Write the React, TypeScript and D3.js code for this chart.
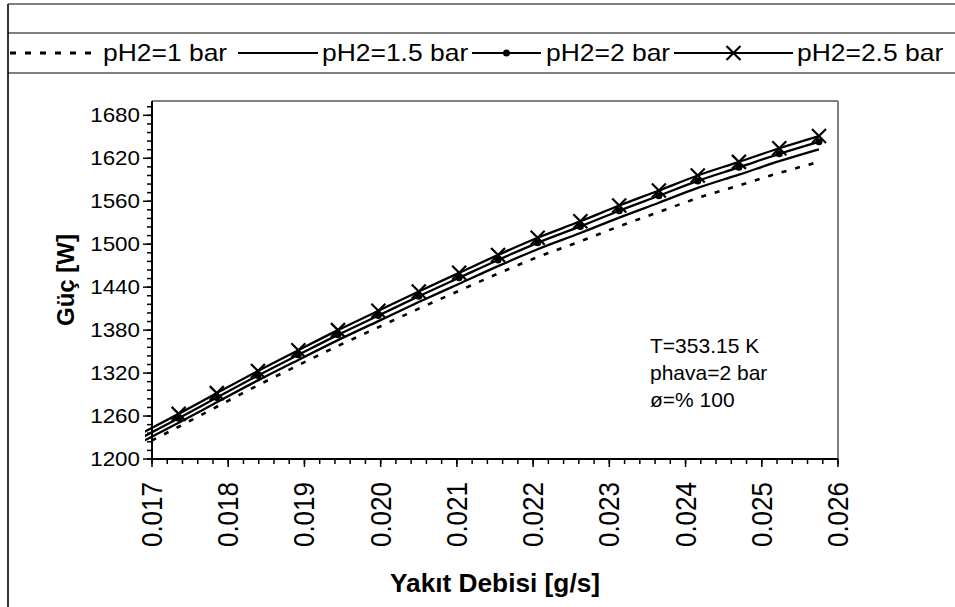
import React from "react";
import * as d3 from "d3";

const W = 955;
const H = 607;

// fuel flow values (g/s) of the computed points
const xValues = [0.01683, 0.01735, 0.01785, 0.01839, 0.01892, 0.01944, 0.01997, 0.0205, 0.02103, 0.02154, 0.02206, 0.02262, 0.02313, 0.02365, 0.02416, 0.0247, 0.02523, 0.02575];

const p1 = [1217, 1245, 1273, 1303, 1331, 1358, 1384, 1410, 1435, 1459, 1482, 1504, 1525, 1545, 1564.5, 1582, 1599.5, 1615];
const p15 = [1222, 1250.6, 1279.2, 1309.8, 1338.4, 1366, 1392.6, 1419.2, 1444.8, 1469.4, 1493, 1515.6, 1537.2, 1557.9, 1578.6, 1597.2, 1615.9, 1632.5];
const p2 = [1228, 1256.9, 1285.8, 1316.6, 1345.5, 1373.4, 1400.3, 1427.2, 1453.1, 1478, 1501.9, 1524.8, 1546.7, 1567.6, 1588.4, 1607.3, 1626.2, 1643];
const p25 = [1234, 1263, 1292, 1323, 1352, 1380, 1407, 1434, 1460, 1485, 1509, 1532, 1554, 1575, 1596, 1615, 1634, 1651];

const seriesNames = ["pH2=1 bar", "pH2=1.5 bar", "pH2=2 bar", "pH2=2.5 bar"];
const seriesValues = [p1, p15, p2, p25];
const seriesMarkers = ["none", "none", "dot", "x"];
const seriesDash = ["5,9", null, null, null];

const yTicks = [1200, 1260, 1320, 1380, 1440, 1500, 1560, 1620, 1680];
const xTicks = [0.017, 0.018, 0.019, 0.02, 0.021, 0.022, 0.023, 0.024, 0.025, 0.026];
const annotation = ["T=353.15 K", "phava=2 bar", "ø=% 100"];
const xTitle = "Yakıt Debisi [g/s]";
const yTitle = "Güç [W]";

const FONT = "'Liberation Sans', Arial, sans-serif";

const plot = { left: 152, top: 101, right: 838, bottom: 459 };

function Marker({ type, x, y }: { type: string; x: number; y: number }) {
  if (type === "dot") return <circle cx={x} cy={y} r={3.5} fill="#000" />;
  if (type === "x") {
    const s = 7;
    return (
      <g stroke="#000" strokeWidth={2.2}>
        <line x1={x - s} y1={y - s} x2={x + s} y2={y + s} />
        <line x1={x - s} y1={y + s} x2={x + s} y2={y - s} />
      </g>
    );
  }
  return null;
}

export default function App() {
  const x = d3.scaleLinear().domain([0.017, 0.026]).range([plot.left, plot.right]);
  const y = d3.scaleLinear().domain([1200, 1700]).range([plot.bottom, plot.top]);
  const line = d3
    .line<number>()
    .x((_, i) => x(xValues[i]))
    .y((d) => y(d))
    .curve(d3.curveMonotoneX);

  const yMinor = d3.range(1200, 1700.1, 12);
  const xMinor = d3.range(0, 46).map((i) => 0.017 + i * 0.0002);

  const legendItems = [
    { x1: 10, x2: 100, tx: 103 },
    { x1: 238, x2: 318, tx: 322 },
    { x1: 472, x2: 541, tx: 546 },
    { x1: 674, x2: 793, tx: 797 },
  ];
  const legY = 53;
  const sx = 1.15;

  return (
    <svg width={W} height={H} style={{ display: "block", position: "absolute", left: 0, top: 0 }} fontFamily={FONT}>
      <rect x={0} y={0} width={W} height={H} fill="#fff" />
      {/* chart frame */}
      <line x1={8} y1={4} x2={W} y2={4} stroke="#555" strokeWidth={1.5} />
      <line x1={8} y1={4} x2={8} y2={H} stroke="#333" strokeWidth={2} />
      <line x1={8} y1={33} x2={W} y2={33} stroke="#000" strokeWidth={1} />
      <line x1={8} y1={73} x2={W} y2={73} stroke="#000" strokeWidth={1} />

      {/* legend */}
      {legendItems.map((it, i) => (
        <g key={i}>
          <line x1={it.x1} y1={legY} x2={it.x2} y2={legY} stroke="#000" strokeWidth={i === 0 ? 3 : 2} strokeDasharray={seriesDash[i] ? "6,9" : undefined} />
          <Marker type={seriesMarkers[i]} x={(it.x1 + it.x2) / 2} y={legY} />
          <text transform={`translate(${it.tx},${legY + 8}) scale(${sx},1)`} fontSize={23}>
            {seriesNames[i]}
          </text>
        </g>
      ))}

      {/* plot frame */}
      <line x1={plot.left} y1={plot.top} x2={plot.right} y2={plot.top} stroke="#808080" strokeWidth={2} />
      <line x1={plot.right} y1={plot.top} x2={plot.right} y2={plot.bottom} stroke="#808080" strokeWidth={2} />

      <defs>
        <clipPath id="dataClip">
          <rect x={145} y={plot.top - 20} width={plot.right - 145 + 20} height={plot.bottom - plot.top + 20} />
        </clipPath>
      </defs>

      {/* series */}
      <g clipPath="url(#dataClip)">
        {seriesValues.map((vals, i) => (
          <path key={i} d={line(vals) || ""} fill="none" stroke="#000" strokeWidth={i === 0 ? 2.6 : 2.3} strokeDasharray={seriesDash[i] || undefined} />
        ))}
      </g>
      {seriesValues.map((vals, i) =>
        vals.map((v, j) =>
          xValues[j] >= 0.017 ? <Marker key={`${i}-${j}`} type={seriesMarkers[i]} x={x(xValues[j])} y={y(v)} /> : null
        )
      )}

      {/* axes */}
      <g stroke="#000" strokeWidth={1.5}>
        {yMinor.map((v, i) => (
          <line key={`ym${i}`} x1={plot.left - 5} x2={plot.left} y1={y(v)} y2={y(v)} />
        ))}
        {yTicks.map((v) => (
          <line key={`yt${v}`} x1={plot.left - 9} x2={plot.left} y1={y(v)} y2={y(v)} />
        ))}
        {xMinor.map((v, i) => (
          <line key={`xm${i}`} x1={x(v)} x2={x(v)} y1={plot.bottom} y2={plot.bottom + 5} />
        ))}
        {xTicks.map((v) => (
          <line key={`xt${v}`} x1={x(v)} x2={x(v)} y1={plot.bottom} y2={plot.bottom + 8} />
        ))}
      </g>
      <line x1={plot.left} y1={plot.top} x2={plot.left} y2={plot.bottom + 1} stroke="#000" strokeWidth={2} />
      <line x1={plot.left - 1} y1={plot.bottom} x2={plot.right} y2={plot.bottom} stroke="#000" strokeWidth={2} />

      {yTicks.map((v) => (
        <text key={`yl${v}`} transform={`translate(140,${y(v)}) scale(1.12,1)`} textAnchor="end" dy="0.35em" fontSize={20}>
          {v}
        </text>
      ))}
      {xTicks.map((v) => (
        <text key={`xl${v}`} transform={`translate(${x(v)},482) scale(1.1,1) rotate(-90)`} textAnchor="end" dy="0.35em" fontSize={26}>
          {d3.format(".3f")(v)}
        </text>
      ))}

      {/* titles */}
      <text transform={`translate(${(plot.left + plot.right) / 2},592) scale(1.05,1)`} textAnchor="middle" fontSize={25} fontWeight="bold">
        {xTitle}
      </text>
      <text transform={`translate(66,280) rotate(-90)`} textAnchor="middle" dy="0.35em" fontSize={24} fontWeight="bold">
        {yTitle}
      </text>

      {/* annotation */}
      {annotation.map((t, i) => (
        <text key={t} x={650} y={353 + i * 27} fontSize={21}>
          {t}
        </text>
      ))}
    </svg>
  );
}
